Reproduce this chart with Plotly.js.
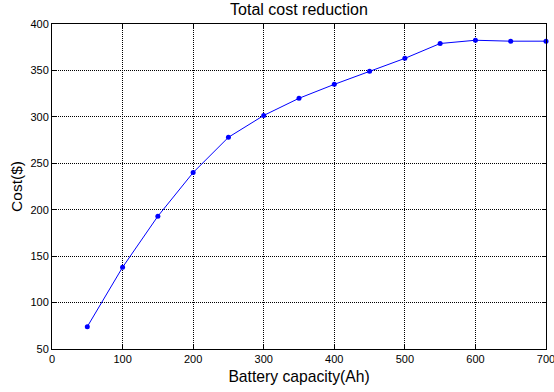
<!DOCTYPE html>
<html><head><meta charset="utf-8">
<script src="https://cdn.plot.ly/plotly-3.0.1.min.js"></script>
<style>html,body{margin:0;padding:0;background:#fff}</style>
</head><body><div id="c" style="width:554px;height:392px"></div>
<script>
var capacity = [50,100,150,200,250,300,350,400,450,500,550,600,650,700];
var cost = [74,138,193,240,278,301.5,320,335,349,363,379,382.5,381.5,381.5];
var xTicks = [0,100,200,300,400,500,600,700];
var yTicks = [50,100,150,200,250,300,350,400];

var FONT = 'Liberation Sans, Arial, sans-serif';
var axisCommon = {
  showline:true, linecolor:'#000', linewidth:1, mirror:'ticks',
  ticks:'inside', ticklen:4, tickcolor:'#000',
  showgrid:true, gridcolor:'#000', gridwidth:1, griddash:'1px,1px',
  zeroline:false, ticklabeloverflow:'allow',
  tickfont:{family:FONT, size:11, color:'#000'}
};
var layout = {
  width:554, height:392,
  margin:{l:52, r:8, t:24, b:43},
  paper_bgcolor:'#fff', plot_bgcolor:'#fff',
  showlegend:false,
  title:{text:'Total cost reduction', x:0.5397, xanchor:'center', y:0.976, yanchor:'middle',
         font:{family:FONT, size:16, color:'#000'}},
  xaxis:Object.assign({}, axisCommon, {range:[0,700], tickvals:xTicks, ticktext:xTicks.map(String),
        title:{text:'Battery capacity(Ah)', standoff:6, font:{family:FONT, size:15.7, color:'#000'}}}),
  yaxis:Object.assign({}, axisCommon, {range:[50,400], tickvals:yTicks, ticktext:yTicks.map(String),
        title:{text:'Cost($)', standoff:4, font:{family:FONT, size:15.5, color:'#000'}}})
};
var trace = {x:capacity, y:cost, mode:'lines+markers', type:'scatter',
  line:{color:'#0000ff', width:1}, marker:{color:'#0000ff', size:5}, cliponaxis:false};
Plotly.newPlot('c', [trace], layout, {staticPlot:true, displayModeBar:false});
</script></body></html>
